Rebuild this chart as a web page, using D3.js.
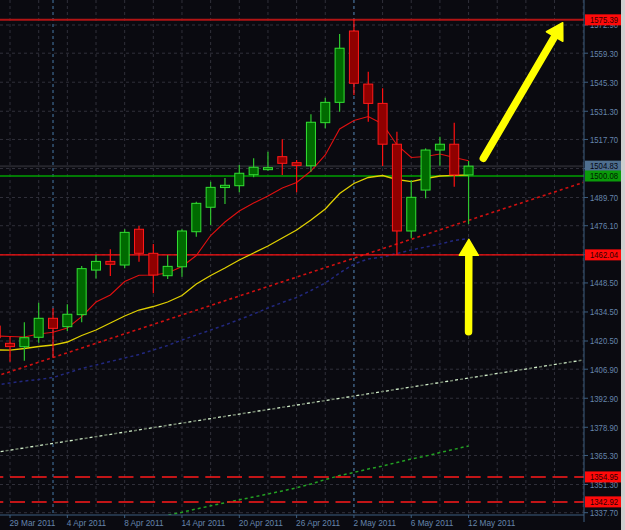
<!DOCTYPE html>
<html><head><meta charset="utf-8">
<script src="https://cdn.jsdelivr.net/npm/d3@7"></script>
<style>html,body{margin:0;padding:0;background:#0a0a10;overflow:hidden}</style>
</head><body><svg id="c" width="625" height="530"></svg>
<script>
// ---- data ----
const dates = ["28 Mar","29 Mar","30 Mar","31 Mar","1 Apr","4 Apr","5 Apr","6 Apr","7 Apr","8 Apr","11 Apr","12 Apr","13 Apr","14 Apr","15 Apr","18 Apr","19 Apr","20 Apr","21 Apr","22 Apr","25 Apr","26 Apr","27 Apr","28 Apr","29 Apr","2 May","3 May","4 May","5 May","6 May","9 May","10 May","11 May","12 May"];
const open  = [1427.7,1419.4,1417.75,1422.3,1431.45,1427.4,1433.2,1454.7,1458.9,1457.15,1474.4,1462.8,1452.0,1456.3,1473.2,1485.0,1494.5,1495.4,1500.7,1503.45,1509.4,1506.5,1505.0,1525.8,1535.6,1570.0,1544.4,1535.1,1515.4,1473.55,1493.3,1512.6,1515.4,1500.6];
const high  = [1428.5,1422.9,1429.5,1439.0,1436.3,1438.2,1456.7,1462.0,1464.7,1474.4,1476.0,1467.3,1462.0,1474.4,1487.7,1497.3,1499.1,1505.4,1508.6,1511.8,1517.8,1507.8,1529.8,1537.8,1568.6,1575.8,1550.4,1542.4,1521.4,1498.15,1513.4,1519.0,1525.8,1507.3];
const low   = [1419.5,1410.5,1411.0,1419.7,1412.45,1425.3,1429.5,1450.7,1451.85,1455.6,1458.7,1443.5,1450.4,1451.5,1470.8,1476.4,1486.6,1492.2,1499.45,1502.6,1500.6,1492.2,1502.15,1523.1,1531.1,1539.1,1526.3,1504.9,1462.0,1470.0,1489.3,1505.0,1494.9,1476.9];
const close = [1422.1,1417.8,1422.1,1431.45,1426.6,1433.4,1455.4,1458.9,1457.5,1472.9,1462.8,1452.3,1456.5,1473.55,1486.9,1494.6,1495.6,1501.4,1504.3,1504.1,1506.2,1505.2,1526.0,1535.6,1561.7,1544.8,1535.1,1515.4,1473.55,1489.8,1512.6,1515.4,1500.6,1504.83];
const maRed    = [1422.91,1422.67,1422.43,1423.88,1424.70,1426.77,1432.22,1439.31,1442.69,1449.20,1452.19,1452.33,1453.30,1456.43,1461.74,1471.38,1477.89,1483.20,1487.06,1490.43,1494.29,1496.94,1502.49,1510.21,1522.75,1526.85,1528.77,1525.16,1515.03,1509.00,1509.48,1510.69,1509.00,1507.46];
const maYellow = [1416.2,1416.1,1416.89,1417.85,1418.57,1420.02,1423.15,1425.81,1429.18,1432.56,1435.45,1437.14,1439.31,1442.45,1447.99,1452.09,1455.71,1459.57,1462.94,1466.32,1470.18,1474.04,1478.86,1484.16,1491.64,1496.46,1499.36,1500.32,1498.39,1497.33,1498.87,1500.08,1500.42,1500.56];
const maBlue   = [1399.28,1400.25,1401.21,1401.93,1402.90,1405.07,1407.24,1408.93,1410.62,1412.30,1413.99,1416.16,1418.33,1420.98,1423.40,1425.81,1428.22,1430.87,1433.52,1436.42,1439.07,1441.48,1444.86,1448.47,1453.30,1457.64,1460.05,1461.01,1462.70,1464.39,1465.84,1467.28,1468.97,1469.94];
const maGreen  = [null,null,null,null,null,null,null,null,null,null,1333.7,1335.1,1336.5,1337.9,1339.5,1341.0,1342.5,1343.9,1345.3,1346.7,1348.2,1349.7,1351.5,1353.7,1355.6,1357.1,1358.8,1360.2,1361.9,1363.6,1365.0,1366.7,1368.3,1369.9];
const trendRed   = [[0,1403.43],[41,1496.94]];
const trendWhite = [[0,1366.78],[41,1411.34]];
const levelValues = [1575.39,1504.83,1500.08,1462.04,1354.95,1342.92];
const yTicks = [1572.90,1559.30,1545.30,1531.30,1517.70,1503.70,1489.70,1476.10,1462.10,1448.50,1434.50,1420.50,1406.90,1392.90,1378.90,1365.30,1351.30,1337.70];
const xTickDates = ["29 Mar","4 Apr","8 Apr","14 Apr","20 Apr","26 Apr","2 May","6 May","12 May"];
const monthStarts = ["1 Apr","2 May"];
const arrows = [ {from:[33.0,1425.0], to:[33.02,1469.55]}, {from:[34.03,1508.6], to:[39.57,1574.0]} ];

// ---- layout ----
const W = 625, H = 530, PR = 584, PB = 515;
const svg = d3.select('#c');
svg.append('rect').attr('width',W).attr('height',H).attr('fill','#0a0a10');
const x = d3.scaleLinear().domain([0,41]).range([-4.3,583.2]);
const y = d3.scaleLinear().domain([1337.7,1572.9]).range([512.7,25]);

svg.append('defs').append('clipPath').attr('id','pc').append('rect').attr('x',0).attr('y',0).attr('width',PR).attr('height',PB);
const g = svg.append('g').attr('clip-path','url(#pc)');

// grid
const gridIdx = d3.range(1,42,2);
g.selectAll('.vg').data(gridIdx).join('line')
  .attr('x1',d=>x(d)).attr('x2',d=>x(d)).attr('y1',0).attr('y2',PB)
  .attr('stroke','#30303a').attr('stroke-dasharray','3,3').attr('stroke-width',1);
g.selectAll('.hg').data(yTicks).join('line')
  .attr('x1',0).attr('x2',PR).attr('y1',d=>y(d)).attr('y2',d=>y(d))
  .attr('stroke','#30303a').attr('stroke-dasharray','3,3').attr('stroke-width',1);
g.selectAll('.ms').data(monthStarts).join('line')
  .attr('x1',d=>x(dates.indexOf(d))).attr('x2',d=>x(dates.indexOf(d))).attr('y1',0).attr('y2',PB)
  .attr('stroke','#3f6890').attr('stroke-dasharray','3,3').attr('stroke-width',1.2);

// trendlines
const tl = d3.line().x(d=>x(d[0])).y(d=>y(d[1]));
g.append('path').attr('d',tl(trendWhite)).attr('fill','none').attr('stroke','#6f7f6a').attr('stroke-width',1.5).attr('stroke-dasharray','3,7');
g.append('path').attr('d',tl(trendWhite)).attr('fill','none').attr('stroke','#d4f0cc').attr('stroke-width',1.3).attr('stroke-dasharray','3,7').attr('stroke-dashoffset',5);
g.append('path').attr('d',tl(trendRed)).attr('fill','none').attr('stroke','#d01010').attr('stroke-width',1.6).attr('stroke-dasharray','3,3');

// moving averages
const ml = d3.line().defined(d=>d[1]!=null).x(d=>x(d[0])).y(d=>y(d[1]));
const ser = a => a.map((v,i)=>[i,v]);
g.append('path').attr('d',ml(ser(maGreen))).attr('fill','none').attr('stroke','#23a023').attr('stroke-width',1.5).attr('stroke-dasharray','3,3');
g.append('path').attr('d',ml(ser(maBlue))).attr('fill','none').attr('stroke','#22287e').attr('stroke-width',1.5).attr('stroke-dasharray','3,3');

// horizontal levels
const lvStyle = [
  {c:'#b01414', w:2, dash:null},
  {c:'#26262c', w:2, dash:null},
  {c:'#00a000', w:1.5, dash:null},
  {c:'#ff1010', w:1.1, dash:null},
  {c:'#ff1a1a', w:1.5, dash:'15,6.7'},
  {c:'#ff1a1a', w:1.5, dash:'15,6.7'}
];
levelValues.forEach((v,i)=>{
  const s = lvStyle[i];
  const l = g.append('line').attr('x1',0).attr('x2',PR).attr('y1',y(v)).attr('y2',y(v))
    .attr('stroke',s.c).attr('stroke-width',s.w);
  if(s.dash) l.attr('stroke-dasharray',s.dash).attr('stroke-dashoffset',-10);
});

g.append('path').attr('d',ml(ser(maYellow))).attr('fill','none').attr('stroke','#e0d000').attr('stroke-width',1.3);
g.append('path').attr('d',ml(ser(maRed))).attr('fill','none').attr('stroke','#e01010').attr('stroke-width',1.1);

// candles
const idx = d3.range(dates.length);
const cg = g.append('g');
cg.selectAll('.wick').data(idx).join('line')
  .attr('x1',i=>x(i)).attr('x2',i=>x(i)).attr('y1',i=>y(high[i])).attr('y2',i=>y(low[i]))
  .attr('stroke',i=>close[i]>=open[i]?'#2ec42e':'#ff1010').attr('stroke-width',1.2);
cg.selectAll('.body').data(idx).join('rect')
  .attr('x',i=>x(i)-4.5).attr('width',9)
  .attr('y',i=>y(Math.max(open[i],close[i])))
  .attr('height',i=>Math.max(2, Math.abs(y(open[i])-y(close[i]))))
  .attr('fill',i=>close[i]>=open[i]?'#006a00':'#900000')
  .attr('stroke',i=>close[i]>=open[i]?'#33e033':'#ff1a1a').attr('stroke-width',1);

// arrows
const ag = svg.append('g');
arrows.forEach(a=>{
  const x0=x(a.from[0]), y0=y(a.from[1]), x1=x(a.to[0]), y1=y(a.to[1]);
  const dx=x1-x0, dy=y1-y0, L=Math.hypot(dx,dy), ux=dx/L, uy=dy/L;
  const hl=16, hw=9.5;
  const bx=x1-ux*hl, by=y1-uy*hl;
  ag.append('line').attr('x1',x0).attr('y1',y0).attr('x2',bx+ux*2).attr('y2',by+uy*2)
    .attr('stroke','#ffff00').attr('stroke-width',7.5).attr('stroke-linecap','round');
  ag.append('path').attr('d',`M${x1},${y1}L${bx-uy*hw},${by+ux*hw}L${bx+uy*hw},${by-ux*hw}Z`)
    .attr('fill','#ffff00').attr('stroke','#ffff00').attr('stroke-width',1.5).attr('stroke-linejoin','round');
});

// axes
const axc = '#3d5f80', txc = '#6585ad';
svg.append('line').attr('x1',0).attr('x2',PR).attr('y1',PB).attr('y2',PB).attr('stroke',axc).attr('stroke-width',1);
svg.append('line').attr('x1',PR).attr('x2',PR).attr('y1',0).attr('y2',522).attr('stroke',axc).attr('stroke-width',1);
const font = "'Liberation Sans', Arial, sans-serif";
const xt = svg.append('g');
xTickDates.forEach(d=>{
  const xi = x(dates.indexOf(d));
  xt.append('line').attr('x1',xi).attr('x2',xi).attr('y1',PB).attr('y2',PB+3).attr('stroke',axc);
  const t = xt.append('text').attr('x',xi-0.5).attr('y',526).attr('fill',txc)
    .attr('font-family',font).attr('font-size','9.5px').text(d+' 2011');
  const w = t.node().getComputedTextLength();
  t.attr('textLength',w*0.87).attr('lengthAdjust','spacingAndGlyphs');
});
// tick labels lying right under a level box are not drawn as text (only their marks)
const covered = v => levelValues.some(l => Math.abs(y(l)-y(v)) < 3);
const yt = svg.append('g');
yTicks.forEach(v=>{
  yt.append('line').attr('x1',PR).attr('x2',PR+4).attr('y1',y(v)).attr('y2',y(v)).attr('stroke',axc);
  if(covered(v)) return;
  yt.append('text').attr('x',590).attr('y',y(v)).attr('dy','0.35em').attr('fill',txc)
    .attr('font-family',font).attr('font-size','9.5px')
    .attr('textLength',28).attr('lengthAdjust','spacingAndGlyphs').text(v.toFixed(2));
});
// level boxes
const boxStyle = [
  {bg:'#ff0a0a', fg:'#300000'},
  {bg:'#4e6e8e', fg:'#050510'},
  {bg:'#0a9a0a', fg:'#002000'},
  {bg:'#ff0a0a', fg:'#300000'},
  {bg:'#ff0a0a', fg:'#300000'},
  {bg:'#ff0a0a', fg:'#300000'}
];
levelValues.forEach((v,i)=>{
  const s = boxStyle[i];
  svg.append('rect').attr('x',PR+1).attr('y',y(v)-5.5).attr('width',36).attr('height',11).attr('fill',s.bg);
  svg.append('text').attr('x',590).attr('y',y(v)).attr('dy','0.35em').attr('fill',s.fg)
    .attr('font-family',font).attr('font-size','9px')
    .attr('textLength',28).attr('lengthAdjust','spacingAndGlyphs').text(v.toFixed(2));
});
// window edge strip
svg.append('rect').attr('x',621).attr('y',0).attr('width',4).attr('height',H).attr('fill','#d0d0d0');
</script></body></html>
